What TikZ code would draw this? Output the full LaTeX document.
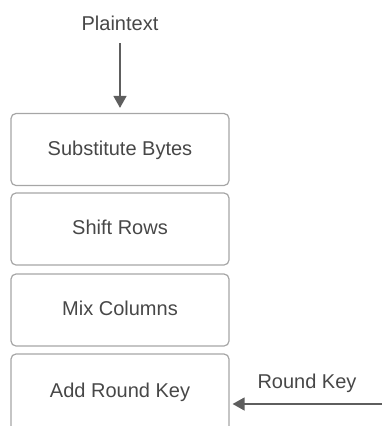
\documentclass[tikz,border=0pt]{standalone}
\usepackage{fontspec}
\setmainfont{Liberation Sans}
\usetikzlibrary{arrows.meta}
\definecolor{txt}{HTML}{474747}
\definecolor{frame}{HTML}{A6A6A6}
\definecolor{wire}{HTML}{5E5E5E}
\tikzset{
  stage/.style={draw=frame, line width=1.2pt, rounded corners=5pt,
    minimum width=218pt, minimum height=72pt, inner sep=0pt,
    text height=11pt, text depth=0pt, text=txt,
    font=\fontsize{20}{23}\selectfont},
  caption/.style={anchor=base, inner sep=0pt, text=txt,
    font=\fontsize{20}{23}\selectfont},
  flow/.style={draw=wire, line width=1.5pt,
    -{Triangle[length=12pt,width=13pt]}}
}
\begin{document}
\begin{tikzpicture}[x=1pt,y=-1pt]
  \useasboundingbox (0,0) rectangle (382,426);
  \clip (0,0) rectangle (382,426);

  % round stages
  \node[stage] (sub)   at (120,149.5) {Substitute Bytes};
  \node[stage] (shift) at (120,229)   {Shift Rows};
  \node[stage] (mix)   at (120,310)   {Mix Columns};
  % last stage runs past the lower edge
  \node[stage, minimum height=90pt, text depth=15pt] (add) at (120,399) {Add Round Key};

  % input
  \node[caption] (plain) at (120,30) {Plaintext};
  \coordinate (plainout) at (120,43);
  \draw[flow, shorten >=5pt] (plainout) -- (sub.north);

  % round key input
  \node[caption] (rk) at (307,388) {Round Key};
  \coordinate (keyin) at (390,404);
  \draw[flow, shorten >=3pt] (keyin) -- (add.east |- keyin);
\end{tikzpicture}
\end{document}
